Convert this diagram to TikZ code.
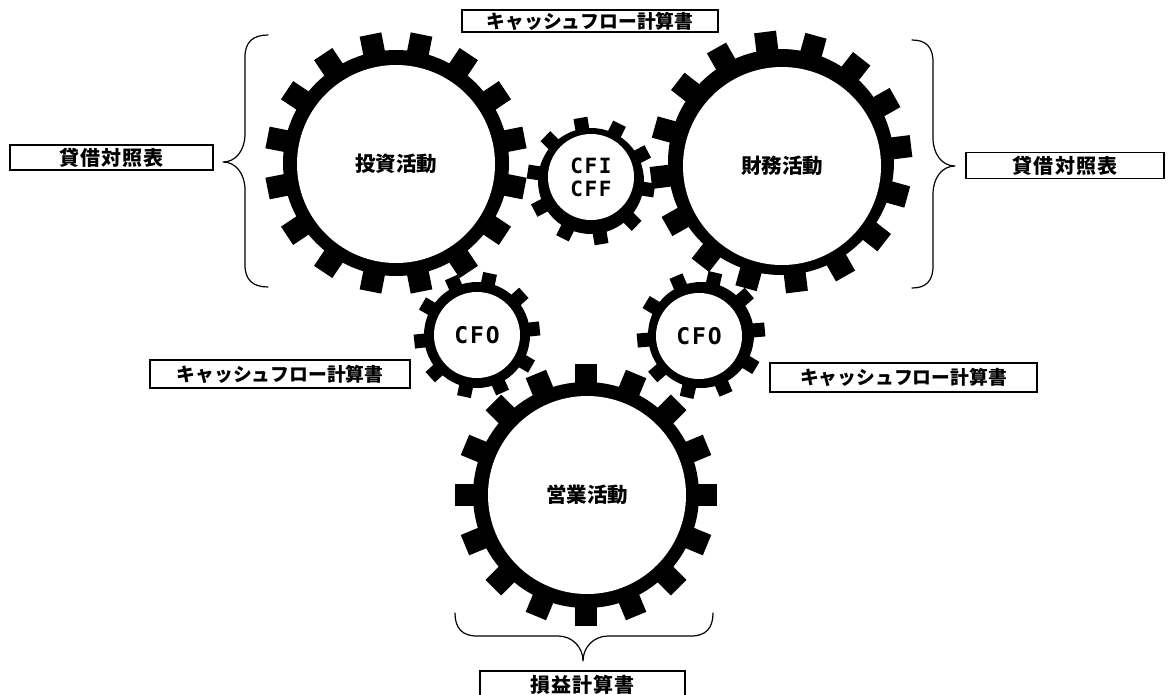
\documentclass[tikz,border=0pt]{standalone}
\usepackage{fontspec}
% Japanese gothic faces with different tracking
\newfontfamily\jpwide{Noto Sans CJK JP}[LetterSpace=6]
\newfontfamily\jpmid{Noto Sans CJK JP}[LetterSpace=0]
\newfontfamily\jphub{Noto Sans CJK JP}[LetterSpace=0]
\newfontfamily\latw{DejaVu Sans Mono}[LetterSpace=8]

\tikzset{
  % a gear: black ring with rectangular teeth
  % #1 ring radius, #2 tooth tip radius, #3 tooth width, #4 tooth count, #5 angle of first tooth
  pics/gear/.style n args={5}{code={
    \fill (0,0) circle[radius=#1pt];
    \foreach \k in {1,...,#4}{
      \fill[rotate={#5+360*\k/#4}] ({#1-4},{-#3/2}) rectangle (#2,{#3/2});
    }
  }},
  bighub/.style={circle, fill=white, inner sep=0pt, minimum size=198pt,
    font=\jphub\bfseries\fontsize{20.5}{23}\selectfont},
  smallhub/.style={circle, fill=white, inner sep=0pt, minimum size=86pt,
    align=center},
  labelbox/.style={draw=black, line width=1.3pt, inner sep=0pt, fill=white},
  cflabel/.style={labelbox, font=\jpmid\bfseries\fontsize{18.8}{21}\selectfont},
  stmtlabel/.style={labelbox, font=\jpwide\bfseries\fontsize{20}{22}\selectfont},
  bracestyle/.style={line width=1.2pt, line cap=round, line join=round}
}

\begin{document}
\begin{tikzpicture}[x=1pt, y=-1pt]
  \fill[white] (0,0) rectangle (1169,694);
  \useasboundingbox (0,0) rectangle (1169,694);

  % gear bodies
  \pic at (396,163) {gear={113}{131}{22}{16}{11.25}};
  \pic at (781,162) {gear={113}{131}{22}{16}{7}};
  \pic at (586,495) {gear={113}{131}{22}{16}{0}};
  \pic at (591,181) {gear={53}{64}{14}{10}{-80.5}};
  \pic at (477,335) {gear={53}{63}{14}{10}{6}};
  \pic at (701,335) {gear={53}{64}{14}{10}{5}};

  % gear hubs with their captions
  \node[bighub] (invest)  at (396,164) {投資活動};
  \node[bighub] (finance) at (782,166) {財務活動};
  \node[bighub] (operate) at (587,495) {営業活動};
  \node[smallhub, font=\latw\bfseries\fontsize{21}{23}\selectfont] (cfific) at (591,177) {CFI\\CFF};
  \node[smallhub, font=\latw\bfseries\fontsize{23}{25}\selectfont] (cfoL) at (477,335) {CFO};
  \node[smallhub, font=\latw\bfseries\fontsize{23}{25}\selectfont] (cfoR) at (699,336) {CFO};

  % statement labels
  \node[cflabel, minimum width=256pt, minimum height=22pt] (cfTop) at (590,21) {キャッシュフロー計算書};
  \node[stmtlabel, minimum width=203pt, minimum height=25pt] (bsL) at (111.5,157.5) {貸借対照表};
  \node[stmtlabel, minimum width=198pt, minimum height=26pt] (bsR) at (1065,165.5) {貸借対照表};
  \node[cflabel, minimum width=260pt, minimum height=28pt] (cfL) at (280,374) {キャッシュフロー計算書};
  \node[cflabel, minimum width=267pt, minimum height=29pt] (cfR) at (903.5,377.5) {キャッシュフロー計算書};
  \node[stmtlabel, minimum width=205pt, minimum height=28pt] (pl) at (582.5,685) {損益計算書};

  % braces
  \draw[bracestyle] (268,35) .. controls (253,35) and (245,42) .. (245,57)
    -- (245,134) .. controls (245,150) and (236,162) .. (223,162)
    .. controls (236,162) and (245,174) .. (245,190)
    -- (245,265) .. controls (245,280) and (253,287) .. (268,287);
  \draw[bracestyle] (912,40) .. controls (926,40) and (933,47) .. (933,62)
    -- (933,138) .. controls (933,154) and (942,166) .. (955,166)
    .. controls (942,166) and (933,178) .. (933,194)
    -- (933,266) .. controls (933,281) and (926,288) .. (912,288);
  \draw[bracestyle] (455,613) .. controls (455,628) and (462,636) .. (477,636)
    -- (558,636) .. controls (572,636) and (583,647) .. (583,661)
    .. controls (583,647) and (594,636) .. (608,636)
    -- (691,636) .. controls (706,636) and (713,628) .. (713,613);
\end{tikzpicture}
\end{document}
